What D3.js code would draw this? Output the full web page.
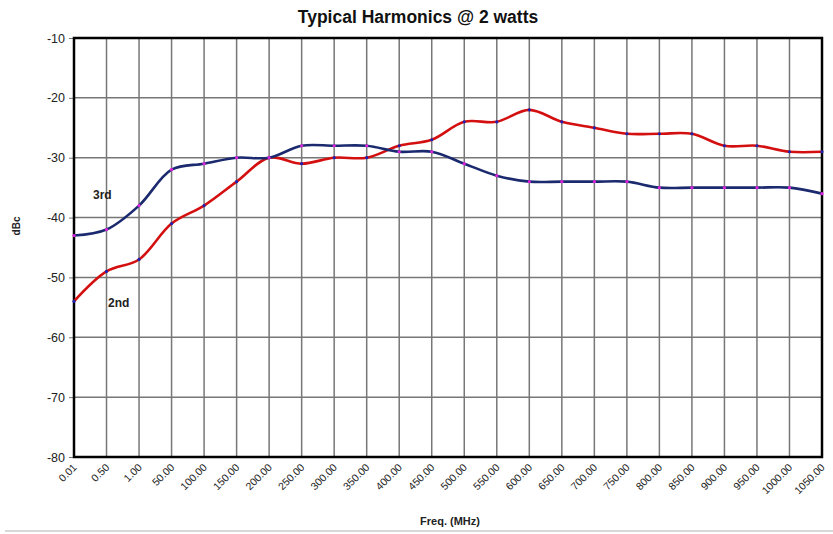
<!DOCTYPE html>
<html>
<head>
<meta charset="utf-8">
<script src="https://cdn.jsdelivr.net/npm/d3@7"></script>
<style>
  body { margin: 0; background: #fff; }
  svg { font-family: "Liberation Sans", Arial, sans-serif; }
</style>
</head>
<body>
<div id="chart"></div>
<script>
const width = 833, height = 534;
const margin = { top: 38, right: 11, bottom: 77, left: 74 };

// frequencies (MHz) shown as category labels
const freqs = ['0.01', '0.50', '1.00', '50.00', '100.00', '150.00', '200.00', '250.00',
  '300.00', '350.00', '400.00', '450.00', '500.00', '550.00', '600.00', '650.00',
  '700.00', '750.00', '800.00', '850.00', '900.00', '950.00', '1000.00', '1050.00'];

const second = [-54, -49, -47, -41, -38, -34, -30, -31, -30, -30, -28, -27,
  -24, -24, -22, -24, -25, -26, -26, -26, -28, -28, -29, -29];

const third = [-43, -42, -38, -32, -31, -30, -30, -28, -28, -28, -29, -29,
  -31, -33, -34, -34, -34, -34, -35, -35, -35, -35, -35, -36];

const yTicks = [-80, -70, -60, -50, -40, -30, -20, -10];

const svg = d3.select('#chart').append('svg')
  .attr('width', width)
  .attr('height', height);

const x = d3.scalePoint()
  .domain(freqs)
  .range([margin.left, width - margin.right]);

const y = d3.scaleLinear()
  .domain([-80, -10])
  .range([height - margin.bottom, margin.top]);

// bottom separator line
svg.append('line')
  .attr('x1', 5).attr('x2', width)
  .attr('y1', 531).attr('y2', 531)
  .attr('stroke', '#b0b0b0')
  .attr('stroke-width', 1);

// title
svg.append('text')
  .attr('x', 418)
  .attr('y', 23)
  .attr('text-anchor', 'middle')
  .style('font-size', '17.5px')
  .style('font-weight', 'bold')
  .style('fill', '#111')
  .text('Typical Harmonics @ 2 watts');

// grid
svg.append('g')
  .selectAll('line')
  .data(yTicks)
  .join('line')
  .attr('x1', margin.left).attr('x2', width - margin.right)
  .attr('y1', d => y(d)).attr('y2', d => y(d))
  .attr('stroke', '#777')
  .attr('stroke-width', 1.5);

svg.append('g')
  .selectAll('line')
  .data(freqs)
  .join('line')
  .attr('x1', d => x(d)).attr('x2', d => x(d))
  .attr('y1', y(-80)).attr('y2', y(-10))
  .attr('stroke', '#777')
  .attr('stroke-width', 1.5);

// y axis
const yAxis = svg.append('g')
  .attr('transform', 'translate(' + margin.left + ',0)')
  .call(d3.axisLeft(y).tickValues(yTicks).tickFormat(d => String(d)).tickSize(5).tickPadding(4));
yAxis.select('.domain').remove();
yAxis.selectAll('line').attr('stroke', '#777');
yAxis.selectAll('text')
  .style('font-size', '12.5px')
  .style('fill', '#222')
  .style('font-family', '"Liberation Sans", Arial, sans-serif');

// x axis labels (rotated)
const xAxis = svg.append('g')
  .attr('transform', 'translate(0,' + y(-80) + ')')
  .call(d3.axisBottom(x).tickSize(0).tickPadding(0));
xAxis.select('.domain').remove();
xAxis.selectAll('text')
  .attr('text-anchor', 'end')
  .attr('dy', 0)
  .attr('transform', 'translate(3,11) rotate(-45)')
  .style('font-size', '10.5px')
  .style('fill', '#222')
  .style('font-family', '"Liberation Sans", Arial, sans-serif');

// plot frame
svg.append('rect')
  .attr('x', margin.left)
  .attr('y', margin.top)
  .attr('width', width - margin.left - margin.right)
  .attr('height', y(-80) - margin.top)
  .attr('fill', 'none')
  .attr('stroke', '#000')
  .attr('stroke-width', 2.5);

// axis titles
svg.append('text')
  .attr('x', 450)
  .attr('y', 525)
  .attr('text-anchor', 'middle')
  .style('font-size', '11px')
  .style('font-weight', 'bold')
  .style('fill', '#222')
  .text('Freq. (MHz)');

svg.append('text')
  .attr('transform', 'translate(20,226) rotate(-90)')
  .attr('text-anchor', 'middle')
  .style('font-size', '10px')
  .style('font-weight', 'bold')
  .style('fill', '#222')
  .text('dBc');

// series
const series = [
  { name: '2nd', values: second, color: '#d40f0f', marker: '#2020b0' },
  { name: '3rd', values: third, color: '#1b2a6e', marker: '#e020e0' }
];

const line = d3.line()
  .x((d, i) => x(freqs[i]))
  .y(d => y(d))
  .curve(d3.curveCatmullRom.alpha(0.5));

series.forEach(s => {
  svg.append('path')
    .datum(s.values)
    .attr('d', line)
    .attr('fill', 'none')
    .attr('stroke', s.color)
    .attr('stroke-width', 2.6);
});

series.forEach(s => {
  svg.append('g')
    .selectAll('circle')
    .data(s.values)
    .join('circle')
    .attr('cx', (d, i) => x(freqs[i]))
    .attr('cy', d => y(d))
    .attr('r', 1.6)
    .attr('fill', s.marker);
});

// series labels
svg.append('text')
  .attr('x', 93).attr('y', 199)
  .style('font-size', '12px')
  .style('font-weight', 'bold')
  .style('fill', '#222')
  .text('3rd');

svg.append('text')
  .attr('x', 108).attr('y', 307)
  .style('font-size', '12px')
  .style('font-weight', 'bold')
  .style('fill', '#222')
  .text('2nd');
</script>
</body>
</html>
